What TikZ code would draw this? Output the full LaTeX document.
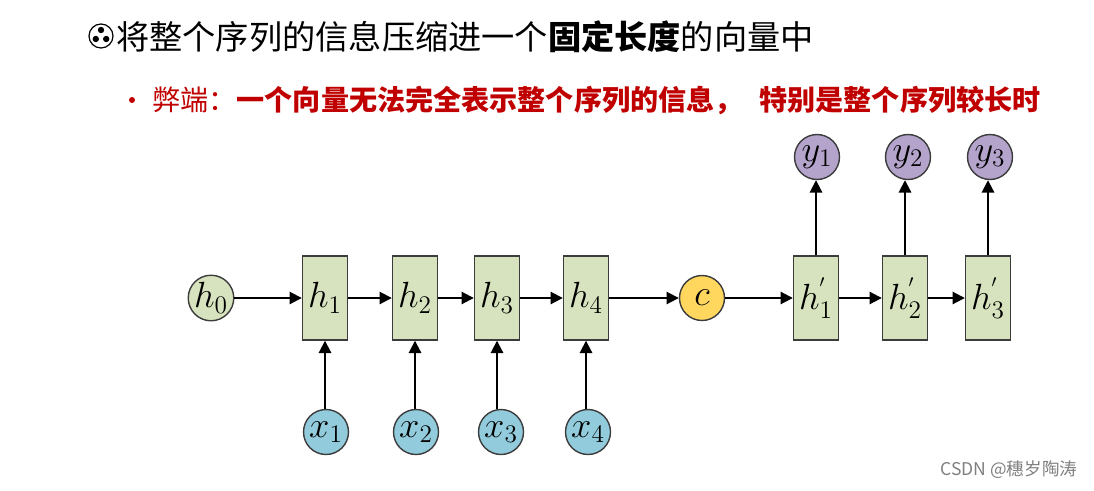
\documentclass[tikz,border=0pt]{standalone}
\usepackage{fontspec}
\usepackage{xcolor}
\usepackage{tikz}
\usetikzlibrary{arrows.meta}
\newfontfamily\cjk{Noto Sans CJK SC}
\definecolor{cBox}{RGB}{215,227,190}
\definecolor{cCtx}{RGB}{255,215,95}
\definecolor{cOut}{RGB}{180,164,204}
\definecolor{cIn}{RGB}{146,204,220}
\definecolor{cRed}{RGB}{192,0,0}
\definecolor{cEdge}{RGB}{60,60,60}

\begin{document}
\begin{tikzpicture}[x=0.02cm,y=-0.02cm,
  cell/.style={draw=cEdge,line width=0.8pt,fill=cBox,minimum width=45*0.02cm,minimum height=84*0.02cm,inner sep=0pt,font=\fontsize{20}{24}\selectfont},
  dot/.style={circle,draw=cEdge,line width=0.8pt,minimum size=45*0.02cm,inner sep=0pt,font=\fontsize{20}{24}\selectfont},
  flow/.style={-{Triangle[length=7pt,width=7pt]},line width=1.1pt}]
\useasboundingbox (0,0) rectangle (1094,490);
% title line
\draw[line width=0.7pt] (101,36) circle (12);
\fill (101,30) circle (3.2);
\fill (95.8,39) circle (3.2);
\fill (106.2,39) circle (3.2);
\node[anchor=west,inner sep=0pt,font=\cjk\fontsize{18.9}{22}\selectfont] (title) at (116,37) {将整个序列的信息压缩进一个\textbf{固定长度}的向量中};
\fill[cRed] (132,100) circle (3);
\node[anchor=west,inner sep=0pt,text=cRed,font=\cjk\fontsize{16}{18}\selectfont] (bad) at (152,100) {弊端：\textbf{一个向量无法完全表示整个序列的信息，\hspace{0.6em}特别是整个序列较长时}};
% encoder
\node[dot,fill=cBox] (h0) at (211,298) {$h_0$};
\node[cell] (h1) at (325,298) {$h_1$};
\node[cell] (h2) at (415,298) {$h_2$};
\node[cell] (h3) at (497,298) {$h_3$};
\node[cell] (h4) at (586,298) {$h_4$};
\node[dot,fill=cCtx] (c) at (702,298) {$c$};
% decoder
\node[cell] (hp1) at (816,298) {$h_1^{'}$};
\node[cell] (hp2) at (905,298) {$h_2^{'}$};
\node[cell] (hp3) at (988,298) {$h_3^{'}$};
\node[dot,fill=cOut] (y1) at (817,157) {$y_1$};
\node[dot,fill=cOut] (y2) at (908,157) {$y_2$};
\node[dot,fill=cOut] (y3) at (990,157) {$y_3$};
\node[dot,fill=cIn] (x1) at (326,432) {$x_1$};
\node[dot,fill=cIn] (x2) at (416,432) {$x_2$};
\node[dot,fill=cIn] (x3) at (501,432) {$x_3$};
\node[dot,fill=cIn] (x4) at (588,432) {$x_4$};
% connections
\draw[flow] (h0) -- (h1);
\draw[flow] (h1) -- (h2);
\draw[flow] (h2) -- (h3);
\draw[flow] (h3) -- (h4);
\draw[flow] (h4) -- (c);
\draw[flow] (c) -- (hp1);
\draw[flow] (hp1) -- (hp2);
\draw[flow] (hp2) -- (hp3);
\draw[flow] (h1.south|-x1.north) -- (h1.south);
\draw[flow] (h2.south|-x2.north) -- (h2.south);
\draw[flow] (h3.south|-x3.north) -- (h3.south);
\draw[flow] (h4.south|-x4.north) -- (h4.south);
\draw[flow] (hp1.north) -- (hp1.north|-y1.south);
\draw[flow] (hp2.north) -- (hp2.north|-y2.south);
\draw[flow] (hp3.north) -- (hp3.north|-y3.south);
% watermark
\node[anchor=west,inner sep=0pt,text=gray,font=\cjk\fontsize{10}{12}\selectfont] (mark) at (940,470) {CSDN @穗岁陶涛};
\end{tikzpicture}
\end{document}
